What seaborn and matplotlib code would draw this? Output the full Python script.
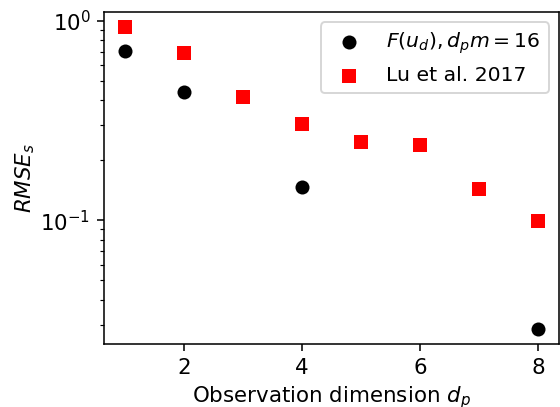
import matplotlib
matplotlib.use("Agg")
import matplotlib.pyplot as plt
import seaborn as sns
import pandas as pd

dims_f = [1, 2, 4, 8]
rmse_f = [0.703, 0.437, 0.146, 0.0286]
dims_lu = [1, 2, 3, 4, 5, 6, 7, 8]
rmse_lu = [0.926, 0.686, 0.414, 0.304, 0.246, 0.239, 0.143, 0.0995]
label_f = r"$F(u_d), d_pm=16$"
label_lu = "Lu et al. 2017"

plt.rcParams['font.size'] = 11
fig = plt.figure(figsize=(4, 407/140), dpi=140)
ax = fig.add_axes([0.186, 0.155, 0.812, 0.815])

sns.scatterplot(x=dims_f, y=rmse_f, ax=ax, marker='o', color='black', s=52,
                linewidth=0, label=label_f)
sns.scatterplot(x=dims_lu, y=rmse_lu, ax=ax, marker='s', color='red', s=52,
                linewidth=0, label=label_lu)
ax.set_yscale('log')
ax.set_xticks([2, 4, 6, 8])
ax.set_xlabel(r"Observation dimension $d_p$", labelpad=3.5)
ax.set_ylabel(r"$RMSE_s$", labelpad=2)
ax.legend(loc='upper right', fontsize=10.5)
fig.savefig("out.png", dpi=140)
